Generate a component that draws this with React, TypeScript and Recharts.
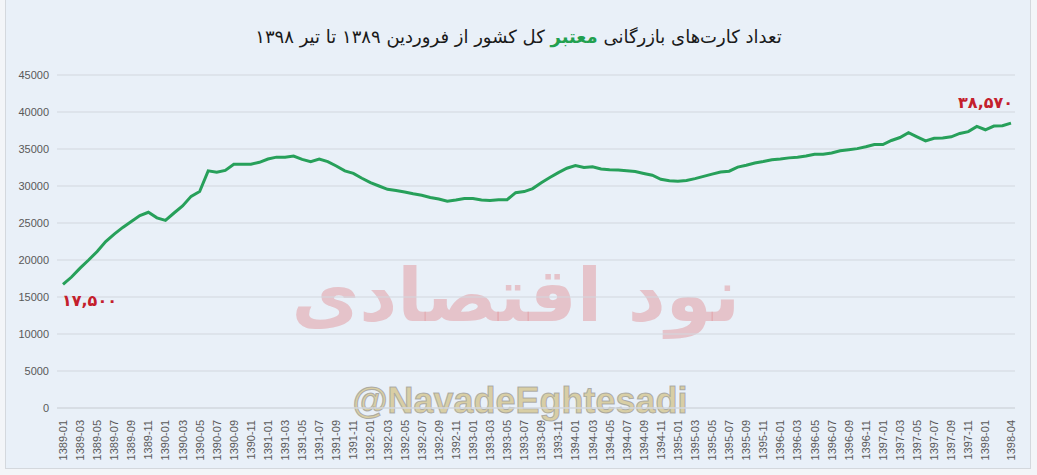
import { LineChart, Line, XAxis, YAxis, CartesianGrid, LabelList } from 'recharts';

const years = ['1389', '1390', '1391', '1392', '1393', '1394', '1395', '1396', '1397', '1398'];
const monthNums = ['01', '02', '03', '04', '05', '06', '07', '08', '09', '10', '11', '12'];

// 1389-01 .. 1398-04, monthly
const months: string[] = years.flatMap((y) =>
  (y === '1398' ? monthNums.slice(0, 4) : monthNums).map((m) => `${y}-${m}`)
);

const cards = [
  16700, 17700, 18900, 20000, 21150, 22500, 23500, 24400, 25200, 26000, 26450, 25700,
  25350, 26350, 27300, 28600, 29250, 32050, 31850, 32100, 32950, 32950, 32950, 33200,
  33650, 33900, 33900, 34050, 33600, 33300, 33650, 33300, 32700, 32050, 31700, 31050,
  30450, 30000, 29550, 29400, 29200, 28950, 28750, 28450, 28250, 27950, 28100, 28300,
  28300, 28100, 28050, 28150, 28150, 29100, 29250, 29650, 30450, 31150, 31800, 32400,
  32750, 32500, 32600, 32300, 32200, 32150, 32050, 31950, 31700, 31450, 30900, 30700,
  30650, 30750, 31000, 31300, 31600, 31900, 32000, 32550, 32800, 33100, 33300, 33550,
  33650, 33800, 33900, 34050, 34300, 34300, 34450, 34750, 34900, 35050, 35300, 35600,
  35600, 36150, 36550, 37200, 36650, 36100, 36450, 36500, 36650, 37100, 37350, 38050,
  37600, 38100, 38150, 38500,
];

const xTicks = [
  ...months.filter((_, i) => i % 2 === 0 && i <= 108),
  '1398-04',
];
const yTicks = [0, 5000, 10000, 15000, 20000, 25000, 30000, 35000, 40000, 45000];

// labels written on the first and last point
const firstLabel = '۱۷,۵۰۰';
const lastLabel = '۳۸,۵۷۰';

const data = months.map((m, i) => ({ month: m, value: cards[i] }));

const XTick = (props: any) => {
  const { x, y, payload } = props;
  return (
    <text
      x={0}
      y={0}
      transform={`translate(${x + 4},${y + 4}) rotate(-90)`}
      textAnchor="end"
      fontSize={11}
      fontFamily="Liberation Sans, Arial, sans-serif"
      fill="#595959"
    >
      {payload.value}
    </text>
  );
};

const EndLabel = (props: any) => {
  const { x, y, index } = props;
  const style = {
    fontSize: 16,
    fontWeight: 700,
    fontFamily: 'DejaVu Sans, sans-serif',
    fill: '#c4202c',
  };
  if (index === 0) {
    return (
      <text x={x - 1} y={y + 22} textAnchor="start" style={style}>
        {firstLabel}
      </text>
    );
  }
  if (index === cards.length - 1) {
    return (
      <text x={x + 2} y={y - 15} textAnchor="end" style={style}>
        {lastLabel}
      </text>
    );
  }
  return null;
};

export default function App() {
  return (
    <div
      style={{
        position: 'absolute',
        left: 0,
        top: 0,
        width: 1037,
        height: 475,
        background: '#f3f5f8',
        overflow: 'hidden',
      }}
    >
      <div
        style={{
          position: 'absolute',
          left: 5,
          top: -2,
          width: 1024,
          height: 469,
          background: '#e9f0f8',
          border: '1px solid #d4d8dd',
        }}
      />
      {/* watermark */}
      <div
        dir="rtl"
        style={{
          position: 'absolute',
          left: 300,
          top: 245,
          width: 440,
          textAlign: 'center',
          whiteSpace: 'nowrap',
          fontFamily: 'DejaVu Sans, sans-serif',
          fontSize: 74,
          fontWeight: 700,
          color: 'rgba(226,150,156,0.5)',
          lineHeight: '100px',
        }}
      >
        نود اقتصادی
      </div>
      <div
        style={{
          position: 'absolute',
          left: 300,
          top: 380,
          width: 440,
          textAlign: 'center',
          whiteSpace: 'nowrap',
          fontFamily: 'Liberation Sans, Arial, sans-serif',
          fontSize: 36,
          fontWeight: 700,
          color: 'rgba(214,200,150,0.85)',
          WebkitTextStroke: '1px rgba(150,150,150,0.7)',
        }}
      >
        @NavadeEghtesadi
      </div>
      <div
        dir="rtl"
        style={{
          position: 'absolute',
          left: 0,
          top: 26,
          width: 1037,
          textAlign: 'center',
          fontFamily: 'DejaVu Sans, sans-serif',
          fontSize: 18,
          color: '#1a1a1a',
        }}
      >
        تعداد کارت‌های بازرگانی{' '}
        <span style={{ color: '#22a04f', fontWeight: 700 }}>معتبر</span> کل کشور از فروردین ۱۳۸۹ تا
        تیر ۱۳۹۸
      </div>
      <div style={{ position: 'absolute', left: 0, top: 0 }}>
        <LineChart
          width={1037}
          height={475}
          data={data}
          margin={{ top: 75, right: 22, bottom: 0, left: 7 }}
        >
          <CartesianGrid vertical={false} stroke="#d2d7de" />
          <XAxis
            dataKey="month"
            ticks={xTicks}
            interval={0}
            tick={<XTick />}
            axisLine={{ stroke: '#d2d7de' }}
            tickLine={false}
            height={67}
            padding={{ left: 6, right: 4 }}
          />
          <YAxis
            domain={[0, 45000]}
            ticks={yTicks}
            width={50}
            axisLine={false}
            tickLine={false}
            tickMargin={2}
            tick={{ fontSize: 11, fill: '#595959', fontFamily: 'Liberation Sans, Arial, sans-serif' }}
          />
          <Line
            type="linear"
            dataKey="value"
            stroke="#27a05a"
            strokeWidth={3}
            dot={false}
            isAnimationActive={false}
          >
            <LabelList dataKey="value" content={<EndLabel />} />
          </Line>
        </LineChart>
      </div>
    </div>
  );
}
